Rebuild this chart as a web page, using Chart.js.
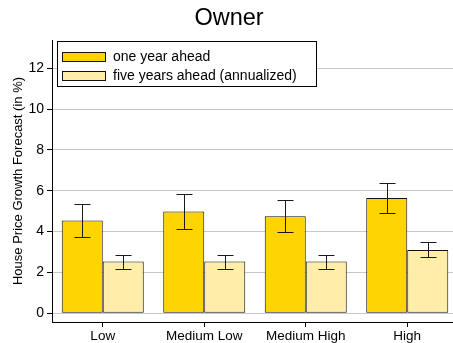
<!DOCTYPE html>
<html>
<head>
<meta charset="utf-8">
<script src="https://cdn.jsdelivr.net/npm/chart.js@4.4.1/dist/chart.umd.min.js"></script>
<style>
  body { margin: 0; overflow: hidden; background: #fff; }
</style>
</head>
<body>
<canvas id="chart" width="458" height="343"></canvas>
<script>
// values
const categories = ["Low", "Medium Low", "Medium High", "High"];
const oneYear   = [4.54, 4.98, 4.75, 5.65];
const oneYearLo = [3.76, 4.15, 3.96, 4.92];
const oneYearHi = [5.36, 5.82, 5.57, 6.40];
const fiveYear   = [2.53, 2.53, 2.53, 3.10];
const fiveYearLo = [2.19, 2.18, 2.19, 2.75];
const fiveYearHi = [2.84, 2.84, 2.86, 3.47];
const yTicks = [0, 2, 4, 6, 8, 10, 12];
const seriesNames = ["one year ahead", "five years ahead (annualized)"];

const gold = "rgb(255, 212, 0)";
const paleGold = "rgb(255, 237, 168)";
const FONT = "'Liberation Sans', Arial, Helvetica, sans-serif";

Chart.defaults.font.family = FONT;
Chart.defaults.color = "#000";

// whiskers for each bar
const errorBars = {
    id: "errorBars",
    afterDatasetsDraw(chart) {
        const ctx = chart.ctx;
        const y = chart.scales.y;
        const ranges = [[oneYearLo, oneYearHi], [fiveYearLo, fiveYearHi]];
        ctx.save();
        ctx.strokeStyle = "#1a1a1a";
        ctx.lineWidth = 1;
        chart.data.datasets.forEach((ds, di) => {
            const meta = chart.getDatasetMeta(di);
            meta.data.forEach((bar, i) => {
                const x = Math.round(bar.x) + 0.5;
                const lo = Math.round(y.getPixelForValue(ranges[di][0][i])) + 0.5;
                const hi = Math.round(y.getPixelForValue(ranges[di][1][i])) + 0.5;
                ctx.beginPath();
                ctx.moveTo(x, hi); ctx.lineTo(x, lo);
                ctx.moveTo(x - 8, hi); ctx.lineTo(x + 8, hi);
                ctx.moveTo(x - 8, lo); ctx.lineTo(x + 8, lo);
                ctx.stroke();
            });
        });
        ctx.restore();
    }
};

// boxed legend inside the plot area
const boxLegend = {
    id: "boxLegend",
    afterDatasetsDraw(chart) {
        const ctx = chart.ctx;
        ctx.save();
        ctx.fillStyle = "#fff";
        ctx.fillRect(57, 41, 260, 46);
        ctx.strokeStyle = "#000";
        ctx.lineWidth = 1;
        ctx.strokeRect(57.5, 41.5, 259, 45);
        ctx.font = "14px " + FONT;
        ctx.textBaseline = "middle";
        chart.data.datasets.forEach((ds, i) => {
            const top = 52 + i * 19;
            ctx.fillStyle = ds.backgroundColor;
            ctx.fillRect(62, top, 44, 10);
            ctx.strokeStyle = "#111";
            ctx.strokeRect(62.5, top + 0.5, 43, 9);
            ctx.fillStyle = "#000";
            ctx.fillText(ds.label, 113, top + 5.5);
        });
        ctx.restore();
    }
};

const chart = new Chart(document.getElementById("chart").getContext("2d"), {
    type: "bar",
    data: {
        labels: categories,
        datasets: [
            {
                label: seriesNames[0],
                data: oneYear,
                backgroundColor: gold,
                borderColor: "#111",
                borderWidth: 1,
                borderSkipped: false,
            },
            {
                label: seriesNames[1],
                data: fiveYear,
                backgroundColor: paleGold,
                borderColor: "#111",
                borderWidth: 1,
                borderSkipped: false,
            }
        ]
    },
    options: {
        responsive: false,
        animation: false,
        layout: { padding: 0 },
        datasets: {
            bar: { categoryPercentage: 0.808, barPercentage: 1.0 }
        },
        scales: {
            x: {
                offset: true,
                afterFit: scale => { scale.height = 21; },
                border: { color: "#000", width: 1 },
                grid: {
                    offset: false,
                    drawOnChartArea: false,
                    drawTicks: true,
                    tickLength: 5,
                    tickColor: "#000",
                },
                ticks: {
                    padding: 1,
                    font: { size: 13.5 },
                    maxRotation: 0,
                    autoSkip: false,
                }
            },
            y: {
                min: -0.43,
                max: 13.39,
                afterFit: scale => { scale.width = 52; },
                afterBuildTicks: scale => { scale.ticks = yTicks.map(v => ({ value: v })); },
                border: { color: "#000", width: 1 },
                grid: {
                    color: "#c8c8c8",
                    tickColor: "#000",
                    tickLength: 5,
                },
                ticks: {
                    padding: 3,
                    font: { size: 14 },
                },
                title: {
                    display: true,
                    text: "House Price Growth Forecast (in %)",
                    font: { size: 13 },
                    padding: { top: 11, bottom: 0 },
                }
            }
        },
        plugins: {
            legend: { display: false },
            tooltip: { enabled: false },
            title: {
                display: true,
                text: "Owner",
                font: { size: 23.5, weight: "normal" },
                padding: { top: 4, bottom: 7.8 },
            }
        }
    },
    plugins: [errorBars, boxLegend]
});
</script>
</body>
</html>
